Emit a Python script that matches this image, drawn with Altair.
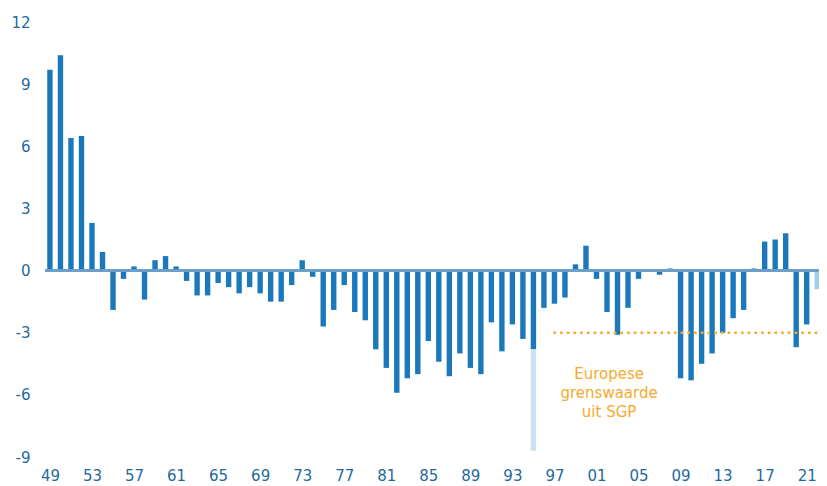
import altair as alt
import pandas as pd

# EMU-saldo (% bbp), 1949-2021
jaren = list(range(1949, 2022))
saldo = [9.7, 10.4, 6.4, 6.5, 2.3, 0.9, -1.9, -0.4, 0.2, -1.4,
         0.5, 0.7, 0.2, -0.5, -1.2, -1.2, -0.6, -0.8, -1.1, -0.8,
         -1.1, -1.5, -1.5, -0.7, 0.5, -0.3, -2.7, -1.9, -0.7, -2.0,
         -2.4, -3.8, -4.7, -5.9, -5.2, -5.0, -3.4, -4.4, -5.1, -4.0,
         -4.7, -5.0, -2.5, -3.9, -2.6, -3.3, -3.8, -1.8, -1.6, -1.3,
         0.3, 1.2, -0.4, -2.0, -3.1, -1.8, -0.4, 0.0, -0.2, 0.1,
         -5.2, -5.3, -4.5, -4.0, -3.0, -2.3, -1.9, 0.1, 1.4, 1.5,
         1.8, -3.7, -2.6]

# lichte segmenten: eenmalig effect 1995 en raming 2022
licht_jaren = [1995, 2022]
licht_van = [-3.8, 0.0]
licht_tot = [-8.7, -0.9]
licht_soort = ["eenmalig", "raming"]

# Europese grenswaarde uit SGP
grens = -3.0
grens_van = 1996.9
grens_tot = 2022.2

y_ticks = [-9, -6, -3, 0, 3, 6, 9, 12]
x_ticks = list(range(1949, 2022, 4))

FONT = "DejaVu Sans"
BLUE = "#1b79bb"
LABEL = "#1f6a9c"
ORANGE = "#f6a92e"

df = pd.DataFrame({"jaar": jaren, "saldo": saldo})
df_licht = pd.DataFrame({"jaar": licht_jaren, "van": licht_van,
                         "tot": licht_tot, "soort": licht_soort})
df_grens = pd.DataFrame({"van": [grens_van], "tot": [grens_tot], "grens": [grens]})

xscale = alt.Scale(domain=[1948.53, 2022.17], nice=False, zero=False, padding=0)
yscale = alt.Scale(domain=[-9, 12], nice=False, padding=0)

xaxis = alt.Axis(values=x_ticks, format="d", labelExpr="substring(datum.label, 2, 4)",
                 grid=False, domain=False, ticks=False, labelPadding=11,
                 labelFontSize=15, labelColor=LABEL, labelFont=FONT, title=None,
                 labelFlush=False)
yaxis = alt.Axis(values=y_ticks, grid=False, domain=False, ticks=False,
                 labelExpr="datum.value + ''",
                 labelPadding=15, labelFontSize=15, labelColor=LABEL,
                 labelFont=FONT, title=None)

bars = alt.Chart(df).mark_bar(size=5.4, color=BLUE).encode(
    x=alt.X("jaar:Q", scale=xscale, axis=xaxis),
    y=alt.Y("saldo:Q", scale=yscale, axis=yaxis),
    y2=alt.datum(0),
)

licht = alt.Chart(df_licht).mark_bar(size=5.4).encode(
    x=alt.X("jaar:Q", scale=xscale),
    y=alt.Y("van:Q", scale=yscale),
    y2="tot:Q",
    color=alt.Color("soort:N", legend=None,
                    scale=alt.Scale(domain=["eenmalig", "raming"],
                                    range=["#cce0ef", "#a6cde8"])),
)

nul = alt.Chart(df).mark_rule(color="#6c9ec8", strokeWidth=1.6).encode(
    x=alt.value(0), x2=alt.value(774), y=alt.datum(0, scale=yscale)
)

grenslijn = alt.Chart(df_grens).mark_rule(
    color=ORANGE, strokeWidth=2.6, strokeDash=[2.6, 4.1]
).encode(
    x=alt.X("van:Q", scale=xscale), x2="tot:Q", y=alt.Y("grens:Q", scale=yscale)
)

tekst = alt.Chart(df_grens).mark_text(
    text="Europese\ngrenswaarde\nuit SGP", lineBreak="\n", lineHeight=19,
    fontSize=15, font=FONT, color=ORANGE, align="center", baseline="middle"
).encode(
    x=alt.datum(2002.2, scale=xscale), y=alt.datum(-5.0, scale=yscale)
)

chart = alt.layer(bars, licht, nul, grenslijn, tekst).properties(
    width=774, height=435,
    autosize=alt.AutoSizeParams(type="none"),
    padding={"left": 37, "top": 14, "right": 0, "bottom": 29},
).configure_view(stroke=None)

chart.save("out.html", embed_options={"renderer": "svg", "actions": False})
